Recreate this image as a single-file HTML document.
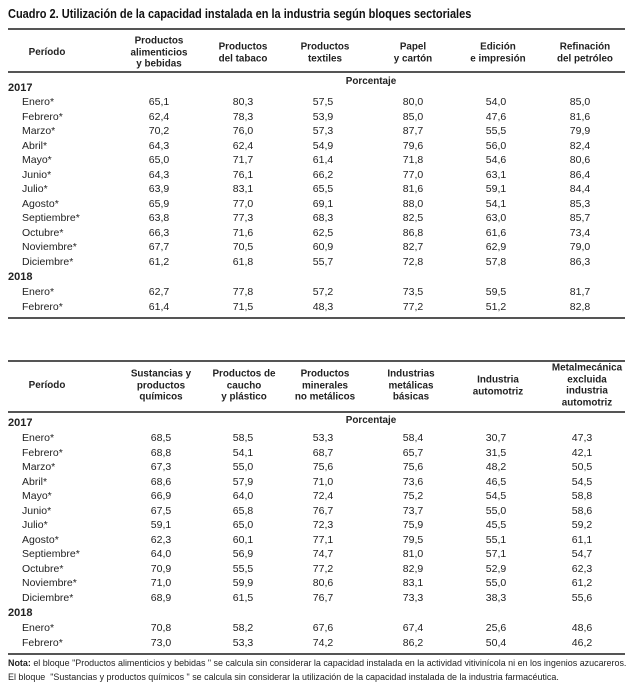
<!DOCTYPE html>
<html><head><meta charset="utf-8"><style>
body{margin:0;width:630px;height:695px;background:#fff;font-family:"Liberation Sans",Arial,sans-serif;color:#222;position:relative;overflow:hidden}
.a{position:absolute;white-space:nowrap}
.t{left:8px;top:7px;font-size:12.5px;font-weight:bold;color:#111;transform:scaleX(0.88);transform-origin:0 0}
.r{position:absolute;left:8px;width:617px;background:#555}
.h{position:absolute;font-size:10.5px;font-weight:bold;text-align:center;line-height:11.7px;transform:translate(-50%,-50%) scaleX(0.94);white-space:nowrap}
.row{position:absolute;left:0;width:630px;height:14px;font-size:10.5px;line-height:14px}
.row span{position:absolute;transform:translateX(-50%)}
.row .m{left:22px;transform:none}
.y{position:absolute;left:8px;font-size:11px;font-weight:bold;line-height:14px}
.n{position:absolute;left:8px;font-size:8.95px;line-height:14px;white-space:nowrap}
</style></head><body>
<div class="a t">Cuadro 2. Utilización de la capacidad instalada en la industria según bloques sectoriales</div>

<div class="r" style="top:28px;height:2px"></div>
<div class="h" style="left:47px;top:53px">Período</div>
<div class="h" style="left:159px;top:53px">Productos<br>alimenticios<br>y bebidas</div>
<div class="h" style="left:243px;top:53px">Productos<br>del tabaco</div>
<div class="h" style="left:325px;top:53px">Productos<br>textiles</div>
<div class="h" style="left:413px;top:53px">Papel<br>y cartón</div>
<div class="h" style="left:498px;top:53px">Edición<br>e impresión</div>
<div class="h" style="left:585px;top:53px">Refinación<br>del petróleo</div>
<div class="r" style="top:71px;height:2px"></div>
<div class="h" style="left:371px;top:82px">Porcentaje</div>
<div class="y" style="top:81px">2017</div>

<div class="row" style="top:95px"><span class="m">Enero*</span><span style="left:159px">65,1</span><span style="left:243px">80,3</span><span style="left:323px">57,5</span><span style="left:413px">80,0</span><span style="left:496px">54,0</span><span style="left:580px">85,0</span></div>
<div class="row" style="top:109.5px"><span class="m">Febrero*</span><span style="left:159px">62,4</span><span style="left:243px">78,3</span><span style="left:323px">53,9</span><span style="left:413px">85,0</span><span style="left:496px">47,6</span><span style="left:580px">81,6</span></div>
<div class="row" style="top:124px"><span class="m">Marzo*</span><span style="left:159px">70,2</span><span style="left:243px">76,0</span><span style="left:323px">57,3</span><span style="left:413px">87,7</span><span style="left:496px">55,5</span><span style="left:580px">79,9</span></div>
<div class="row" style="top:138.5px"><span class="m">Abril*</span><span style="left:159px">64,3</span><span style="left:243px">62,4</span><span style="left:323px">54,9</span><span style="left:413px">79,6</span><span style="left:496px">56,0</span><span style="left:580px">82,4</span></div>
<div class="row" style="top:153px"><span class="m">Mayo*</span><span style="left:159px">65,0</span><span style="left:243px">71,7</span><span style="left:323px">61,4</span><span style="left:413px">71,8</span><span style="left:496px">54,6</span><span style="left:580px">80,6</span></div>
<div class="row" style="top:167.5px"><span class="m">Junio*</span><span style="left:159px">64,3</span><span style="left:243px">76,1</span><span style="left:323px">66,2</span><span style="left:413px">77,0</span><span style="left:496px">63,1</span><span style="left:580px">86,4</span></div>
<div class="row" style="top:182px"><span class="m">Julio*</span><span style="left:159px">63,9</span><span style="left:243px">83,1</span><span style="left:323px">65,5</span><span style="left:413px">81,6</span><span style="left:496px">59,1</span><span style="left:580px">84,4</span></div>
<div class="row" style="top:196.5px"><span class="m">Agosto*</span><span style="left:159px">65,9</span><span style="left:243px">77,0</span><span style="left:323px">69,1</span><span style="left:413px">88,0</span><span style="left:496px">54,1</span><span style="left:580px">85,3</span></div>
<div class="row" style="top:211px"><span class="m">Septiembre*</span><span style="left:159px">63,8</span><span style="left:243px">77,3</span><span style="left:323px">68,3</span><span style="left:413px">82,5</span><span style="left:496px">63,0</span><span style="left:580px">85,7</span></div>
<div class="row" style="top:225.5px"><span class="m">Octubre*</span><span style="left:159px">66,3</span><span style="left:243px">71,6</span><span style="left:323px">62,5</span><span style="left:413px">86,8</span><span style="left:496px">61,6</span><span style="left:580px">73,4</span></div>
<div class="row" style="top:240px"><span class="m">Noviembre*</span><span style="left:159px">67,7</span><span style="left:243px">70,5</span><span style="left:323px">60,9</span><span style="left:413px">82,7</span><span style="left:496px">62,9</span><span style="left:580px">79,0</span></div>
<div class="row" style="top:254.5px"><span class="m">Diciembre*</span><span style="left:159px">61,2</span><span style="left:243px">61,8</span><span style="left:323px">55,7</span><span style="left:413px">72,8</span><span style="left:496px">57,8</span><span style="left:580px">86,3</span></div>
<div class="y" style="top:270px">2018</div>
<div class="row" style="top:285px"><span class="m">Enero*</span><span style="left:159px">62,7</span><span style="left:243px">77,8</span><span style="left:323px">57,2</span><span style="left:413px">73,5</span><span style="left:496px">59,5</span><span style="left:580px">81,7</span></div>
<div class="row" style="top:299.5px"><span class="m">Febrero*</span><span style="left:159px">61,4</span><span style="left:243px">71,5</span><span style="left:323px">48,3</span><span style="left:413px">77,2</span><span style="left:496px">51,2</span><span style="left:580px">82,8</span></div>
<div class="r" style="top:317px;height:2px"></div>

<div class="r" style="top:360px;height:2px"></div>
<div class="h" style="left:47px;top:386px">Período</div>
<div class="h" style="left:161px;top:386px">Sustancias y<br>productos<br>químicos</div>
<div class="h" style="left:244px;top:386px">Productos de<br>caucho<br>y plástico</div>
<div class="h" style="left:325px;top:386px">Productos<br>minerales<br>no metálicos</div>
<div class="h" style="left:411px;top:386px">Industrias<br>metálicas<br>básicas</div>
<div class="h" style="left:498px;top:386px">Industria<br>automotriz</div>
<div class="h" style="left:587px;top:386px">Metalmecánica<br>excluida<br>industria<br>automotriz</div>
<div class="r" style="top:411px;height:2px"></div>
<div class="h" style="left:371px;top:421px">Porcentaje</div>
<div class="y" style="top:416px">2017</div>

<div class="row" style="top:431px"><span class="m">Enero*</span><span style="left:161px">68,5</span><span style="left:243px">58,5</span><span style="left:323px">53,3</span><span style="left:413px">58,4</span><span style="left:496px">30,7</span><span style="left:582px">47,3</span></div>
<div class="row" style="top:445.5px"><span class="m">Febrero*</span><span style="left:161px">68,8</span><span style="left:243px">54,1</span><span style="left:323px">68,7</span><span style="left:413px">65,7</span><span style="left:496px">31,5</span><span style="left:582px">42,1</span></div>
<div class="row" style="top:460px"><span class="m">Marzo*</span><span style="left:161px">67,3</span><span style="left:243px">55,0</span><span style="left:323px">75,6</span><span style="left:413px">75,6</span><span style="left:496px">48,2</span><span style="left:582px">50,5</span></div>
<div class="row" style="top:474.5px"><span class="m">Abril*</span><span style="left:161px">68,6</span><span style="left:243px">57,9</span><span style="left:323px">71,0</span><span style="left:413px">73,6</span><span style="left:496px">46,5</span><span style="left:582px">54,5</span></div>
<div class="row" style="top:489px"><span class="m">Mayo*</span><span style="left:161px">66,9</span><span style="left:243px">64,0</span><span style="left:323px">72,4</span><span style="left:413px">75,2</span><span style="left:496px">54,5</span><span style="left:582px">58,8</span></div>
<div class="row" style="top:503.5px"><span class="m">Junio*</span><span style="left:161px">67,5</span><span style="left:243px">65,8</span><span style="left:323px">76,7</span><span style="left:413px">73,7</span><span style="left:496px">55,0</span><span style="left:582px">58,6</span></div>
<div class="row" style="top:518px"><span class="m">Julio*</span><span style="left:161px">59,1</span><span style="left:243px">65,0</span><span style="left:323px">72,3</span><span style="left:413px">75,9</span><span style="left:496px">45,5</span><span style="left:582px">59,2</span></div>
<div class="row" style="top:532.5px"><span class="m">Agosto*</span><span style="left:161px">62,3</span><span style="left:243px">60,1</span><span style="left:323px">77,1</span><span style="left:413px">79,5</span><span style="left:496px">55,1</span><span style="left:582px">61,1</span></div>
<div class="row" style="top:547px"><span class="m">Septiembre*</span><span style="left:161px">64,0</span><span style="left:243px">56,9</span><span style="left:323px">74,7</span><span style="left:413px">81,0</span><span style="left:496px">57,1</span><span style="left:582px">54,7</span></div>
<div class="row" style="top:561.5px"><span class="m">Octubre*</span><span style="left:161px">70,9</span><span style="left:243px">55,5</span><span style="left:323px">77,2</span><span style="left:413px">82,9</span><span style="left:496px">52,9</span><span style="left:582px">62,3</span></div>
<div class="row" style="top:576px"><span class="m">Noviembre*</span><span style="left:161px">71,0</span><span style="left:243px">59,9</span><span style="left:323px">80,6</span><span style="left:413px">83,1</span><span style="left:496px">55,0</span><span style="left:582px">61,2</span></div>
<div class="row" style="top:590.5px"><span class="m">Diciembre*</span><span style="left:161px">68,9</span><span style="left:243px">61,5</span><span style="left:323px">76,7</span><span style="left:413px">73,3</span><span style="left:496px">38,3</span><span style="left:582px">55,6</span></div>
<div class="y" style="top:606px">2018</div>
<div class="row" style="top:621px"><span class="m">Enero*</span><span style="left:161px">70,8</span><span style="left:243px">58,2</span><span style="left:323px">67,6</span><span style="left:413px">67,4</span><span style="left:496px">25,6</span><span style="left:582px">48,6</span></div>
<div class="row" style="top:635.5px"><span class="m">Febrero*</span><span style="left:161px">73,0</span><span style="left:243px">53,3</span><span style="left:323px">74,2</span><span style="left:413px">86,2</span><span style="left:496px">50,4</span><span style="left:582px">46,2</span></div>
<div class="r" style="top:653px;height:2px"></div>
<div class="n" style="top:656px"><b>Nota:</b> el bloque "Productos alimenticios y bebidas " se calcula sin considerar la capacidad instalada en la actividad vitivinícola ni en los ingenios azucareros.</div>
<div class="n" style="top:670px">El bloque &nbsp;"Sustancias y productos químicos " se calcula sin considerar la utilización de la capacidad instalada de la industria farmacéutica.</div>
</body></html>
